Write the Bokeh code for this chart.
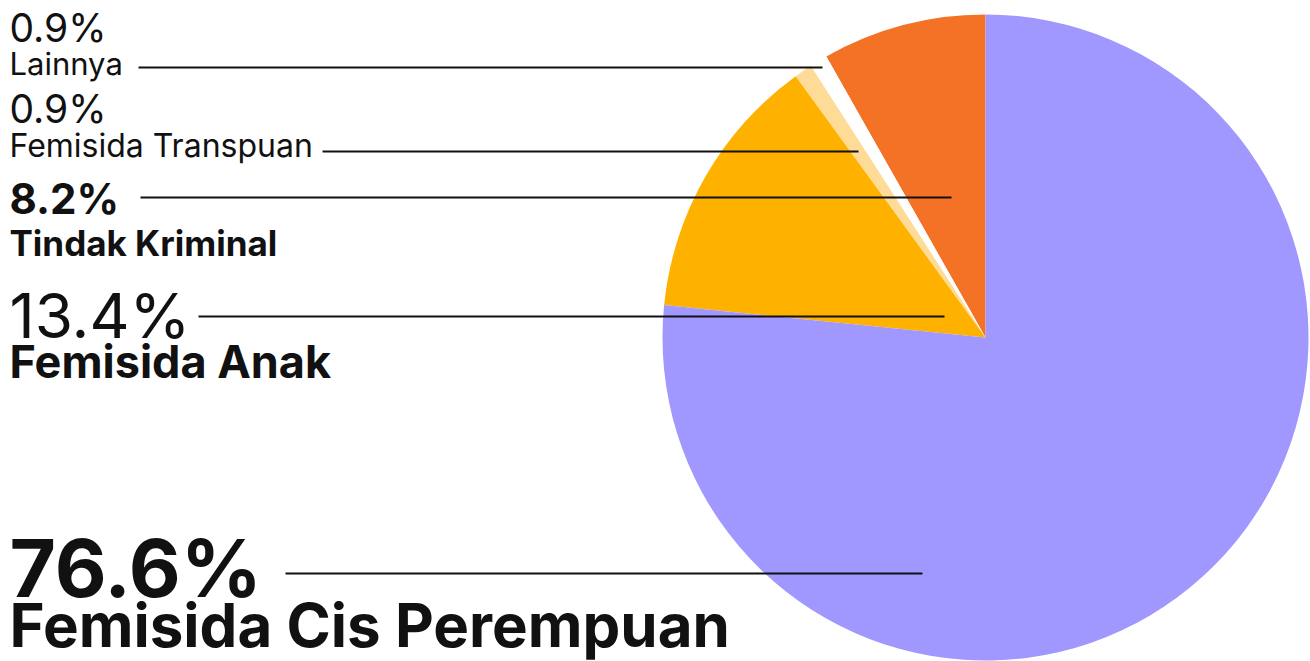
import math
from bokeh.plotting import figure
from bokeh.models import ColumnDataSource
from bokeh.core.properties import value
from bokeh.embed import file_html
from bokeh.resources import INLINE

# ---- data ----
categories = ["Tindak Kriminal", "Lainnya", "Femisida Transpuan", "Femisida Anak", "Femisida Cis Perempuan"]
shares = [8.2, 0.9, 0.9, 13.4, 76.6]
colors = ["#F37225", "#FFFFFF", "#FFDB98", "#FFB100", "#A098FF"]

# ---- layout (1 data unit = 1 px, y measured from the top) ----
W, H = 1310, 661
def Y(screen_y):
    return H - screen_y
def X(screen_x):
    return screen_x

cx, cy, r = X(985), Y(337), 323

starts, ends = [], []
acc = 0.0
for s in shares:
    starts.append(math.pi / 2 + acc / 100 * 2 * math.pi)
    acc += s
    ends.append(math.pi / 2 + acc / 100 * 2 * math.pi)

p = figure(width=W, height=H, x_range=(0, W), y_range=(0, H),
           output_backend="svg", toolbar_location=None, min_border=0)
p.axis.visible = False
p.grid.visible = False
p.outline_line_color = None
p.background_fill_color = "white"
p.border_fill_color = "white"

src = ColumnDataSource(dict(x=[cx] * len(shares), y=[cy] * len(shares),
                            start=starts, end=ends, color=colors, cat=categories))
p.wedge(x="x", y="y", radius=r, start_angle="start", end_angle="end",
        fill_color="color", line_color=None, source=src)

# label layout per category: (pct baseline, pct size, pct style, name baseline, name size, name style,
#                            line y, line x0, line x1)
layout = {
    "Lainnya": (41, 39, "normal", 74, 31, "normal", 67, 138, 822),
    "Femisida Transpuan": (122, 39, "normal", 157, 32, "normal", 151, 322, 858),
    "Tindak Kriminal": (213, 42, "bold", 255, 35, "bold", 197, 140, 951),
    "Femisida Anak": (338, 62, "normal", 377, 45, "bold", 316, 198, 944),
    "Femisida Cis Perempuan": (596, 80, "bold", 646, 60, "bold", 573, 285, 922),
}
MID = 0.363  # Inter: distance from alphabetic baseline to em-box middle, in em

for cat, sh in zip(categories, shares):
    pb, ps, pst, nb, ns, nst, ly, lx0, lx1 = layout[cat]
    p.text(x=[X(9)], y=[Y(pb - MID * ps)], text=[f"{sh}%"], text_font=value("Inter"),
           text_font_size=f"{ps}px", text_font_style=pst, text_color="#111111",
           text_baseline="middle", text_align="left")
    p.text(x=[X(9)], y=[Y(nb - MID * ns)], text=[cat], text_font=value("Inter"),
           text_font_size=f"{ns}px", text_font_style=nst, text_color="#111111",
           text_baseline="middle", text_align="left")
    p.line(x=[X(lx0), X(lx1)], y=[Y(ly), Y(ly)], line_color="#111111", line_width=2)

open("out.html", "w").write(file_html(p, INLINE))
